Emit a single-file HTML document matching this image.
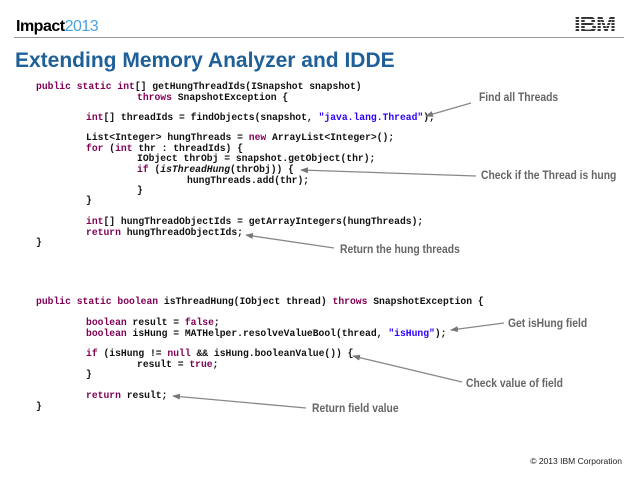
<!DOCTYPE html>
<html><head><style>
body{margin:0;width:638px;height:478px;background:#fff;position:relative;overflow:hidden;font-family:"Liberation Sans",sans-serif}
.c{position:absolute;font-family:"Liberation Mono",monospace;font-size:9.7px;font-weight:bold;color:#111;white-space:pre;line-height:11px}
.k{color:#7f0055}.s{color:#2a00ff}
.a{position:absolute;font-size:12px;color:#666;white-space:nowrap;font-family:"Liberation Sans",sans-serif;font-weight:bold;transform:scaleX(0.86);transform-origin:0 0}
</style></head><body>
<div style="position:absolute;left:16px;top:18px;font-size:16px;font-weight:bold;letter-spacing:-0.5px">Impact<span style="color:#4aa3df;font-weight:normal">2013</span></div>
<div style="position:absolute;left:574px;top:12px;font-size:22px;font-weight:900;color:#333;letter-spacing:-1px;font-family:'Liberation Sans',sans-serif;transform:scaleX(1.1);transform-origin:0 0">IBM</div>
<div style="position:absolute;left:572px;top:14px;width:56px;height:22px;background:repeating-linear-gradient(transparent 0 2px,#fff 2px 3px)"></div>
<div style="position:absolute;left:14px;top:37px;width:610px;height:1px;background:#999"></div>
<div style="position:absolute;left:15px;top:49px;font-size:21px;font-weight:bold;color:#1f6098">Extending Memory Analyzer and IDDE</div>

<div class="c" style="left:36px;top:81px"><span class="k">public static int</span>[] getHungThreadIds(ISnapshot snapshot)</div>
<div class="c" style="left:137px;top:92px"><span class="k">throws</span> SnapshotException {</div>
<div class="c" style="left:86px;top:112px"><span class="k">int</span>[] threadIds = findObjects(snapshot, <span class="s">"java.lang.Thread"</span>);</div>
<div class="c" style="left:86px;top:132px">List&lt;Integer&gt; hungThreads = <span class="k">new</span> ArrayList&lt;Integer&gt;();</div>
<div class="c" style="left:86px;top:143px"><span class="k">for</span> (<span class="k">int</span> thr : threadIds) {</div>
<div class="c" style="left:137px;top:153px">IObject thrObj = snapshot.getObject(thr);</div>
<div class="c" style="left:137px;top:164px"><span class="k">if</span> (<i>isThreadHung</i>(thrObj)) {</div>
<div class="c" style="left:187px;top:175px">hungThreads.add(thr);</div>
<div class="c" style="left:137px;top:185px">}</div>
<div class="c" style="left:86px;top:195px">}</div>
<div class="c" style="left:86px;top:216px"><span class="k">int</span>[] hungThreadObjectIds = getArrayIntegers(hungThreads);</div>
<div class="c" style="left:86px;top:227px"><span class="k">return</span> hungThreadObjectIds;</div>
<div class="c" style="left:36px;top:237px">}</div>

<div class="c" style="left:36px;top:296px"><span class="k">public static boolean</span> isThreadHung(IObject thread) <span class="k">throws</span> SnapshotException {</div>
<div class="c" style="left:86px;top:317px"><span class="k">boolean</span> result = <span class="k">false</span>;</div>
<div class="c" style="left:86px;top:328px"><span class="k">boolean</span> isHung = MATHelper.resolveValueBool(thread, <span class="s">"isHung"</span>);</div>
<div class="c" style="left:86px;top:348px"><span class="k">if</span> (isHung != <span class="k">null</span> &amp;&amp; isHung.booleanValue()) {</div>
<div class="c" style="left:137px;top:359px">result = <span class="k">true</span>;</div>
<div class="c" style="left:86px;top:369px">}</div>
<div class="c" style="left:86px;top:390px"><span class="k">return</span> result;</div>
<div class="c" style="left:36px;top:401px">}</div>

<div class="a" style="left:479px;top:90px">Find all Threads</div>
<div class="a" style="left:481px;top:168px">Check if the Thread is hung</div>
<div class="a" style="left:340px;top:242px">Return the hung threads</div>
<div class="a" style="left:508px;top:316px">Get isHung field</div>
<div class="a" style="left:466px;top:376px">Check value of field</div>
<div class="a" style="left:312px;top:401px">Return field value</div>

<svg width="638" height="478" style="position:absolute;left:0;top:0">
<defs><marker id="m" markerWidth="8" markerHeight="6" refX="7" refY="3" orient="auto" markerUnits="userSpaceOnUse"><path d="M0,0 L8,3 L0,6 z" fill="#777"/></marker></defs>
<g stroke="#888" stroke-width="1.3" fill="none" marker-end="url(#m)">
<line x1="471" y1="103" x2="426" y2="116"/>
<line x1="476" y1="176" x2="301" y2="170"/>
<line x1="334" y1="248" x2="246" y2="235"/>
<line x1="504" y1="323" x2="451" y2="330"/>
<line x1="462" y1="382" x2="353" y2="356"/>
<line x1="306" y1="408" x2="173" y2="396"/>
</g>
</svg>
<div style="position:absolute;right:16px;top:456px;font-size:8.5px;color:#222">© 2013 IBM Corporation</div>
</body></html>
